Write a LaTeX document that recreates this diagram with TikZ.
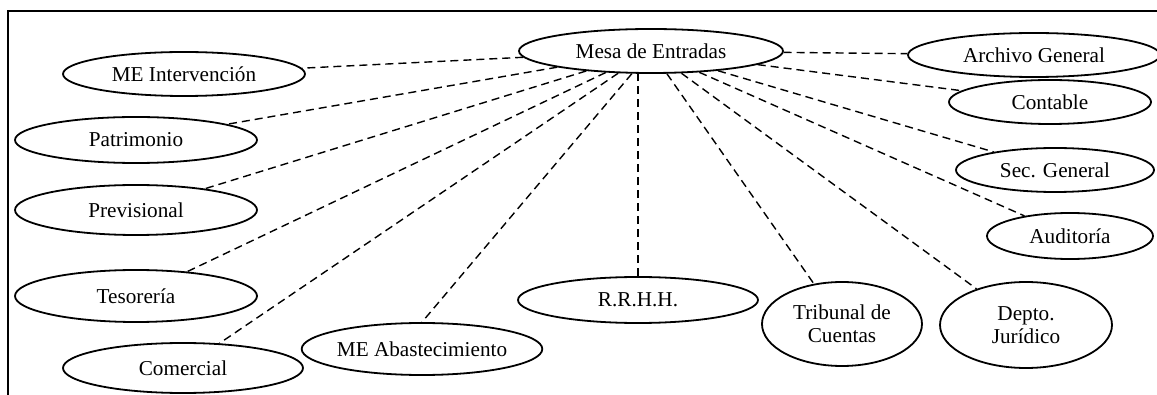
\documentclass[tikz,border=0pt]{standalone}
\usepackage{fontspec}
\setmainfont{Liberation Serif}
\usetikzlibrary{shapes.geometric}
\begin{document}
\begin{tikzpicture}[x=0.5pt,y=-0.5pt,
  ent/.style={draw=black, line width=0.9pt, ellipse, inner sep=0pt, align=center,
    font=\fontsize{10.6}{11.5}\selectfont},
  link/.style={draw=black, line width=0.7pt, dash pattern=on 4pt off 2.5pt},
  frameline/.style={draw=black, line width=1pt}]
\useasboundingbox (0,0) rectangle (1157,395);
\coordinate (fa) at (1160,11);
\coordinate (fb) at (8,11);
\coordinate (fc) at (8,398);
\draw[frameline] (fa) -- (fb) -- (fc);

\node[ent, minimum width=132pt, minimum height=22pt] (mesa)  at (651,51)  {Mesa de Entradas};
\node[ent, minimum width=121pt, minimum height=22pt] (meint) at (184,74)  {ME Intervención};
\node[ent, minimum width=121pt, minimum height=23pt] (patri) at (136,140) {Patrimonio};
\node[ent, minimum width=121pt, minimum height=25pt] (previ) at (136,210) {Previsional};
\node[ent, minimum width=121pt, minimum height=26pt] (teso)  at (136,296) {Tesorería};
\node[ent, minimum width=120pt, minimum height=25pt] (come)  at (183,368) {Comercial};
\node[ent, minimum width=120pt, minimum height=26pt] (meab)  at (422,349) {ME Abastecimiento};
\node[ent, minimum width=120pt, minimum height=23pt] (rrhh)  at (638,300) {R.R.H.H.};
\node[ent, minimum width=80pt,  minimum height=42pt] (trib)  at (842,324) {Tribunal de\\Cuentas};
\node[ent, minimum width=86pt,  minimum height=43pt] (depto) at (1026,325) {Depto.\\Jurídico};
\node[ent, minimum width=83pt,  minimum height=23pt] (audi)  at (1070,236) {Auditoría};
\node[ent, minimum width=99pt,  minimum height=22pt] (secg)  at (1055,170) {Sec. General};
\node[ent, minimum width=101pt, minimum height=22pt] (cont)  at (1050,102) {Contable};
\node[ent, minimum width=126pt, minimum height=22pt] (arch)  at (1034,55)  {Archivo General};

\foreach \t in {meint,patri,previ,teso,come,trib,depto,audi,secg,cont,arch}
  \draw[link] (mesa) -- (\t);
\draw[link] (mesa) -- (meab.north);
\draw[link] (rrhh.north) -- (rrhh.north |- mesa.south);
\end{tikzpicture}
\end{document}
